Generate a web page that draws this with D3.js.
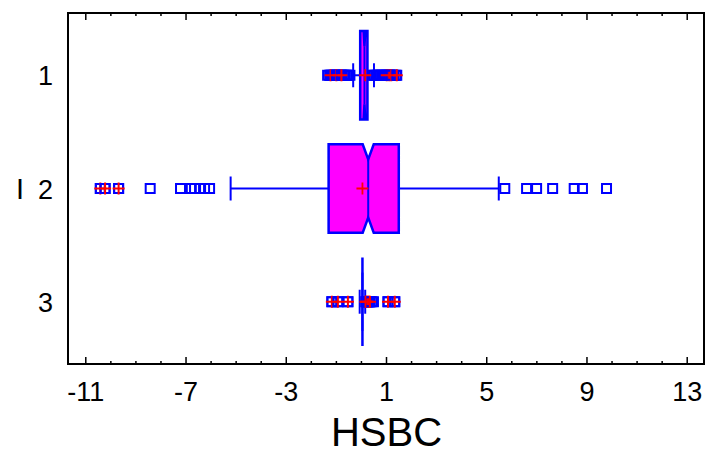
<!DOCTYPE html>
<html>
<head>
<meta charset="utf-8">
<script src="https://cdn.jsdelivr.net/npm/d3@7"></script>
<style>
  body { margin: 0; background: #fff; }
  text { font-family: "Liberation Sans", Arial, sans-serif; }
</style>
</head>
<body>
<script>
// box plot data, one entry per category
var categories = ["1", "2", "3"];
var q1 = [-0.05, -1.31, 0.04];
var median = [0.12, 0.27, 0.04];
var q3 = [0.24, 1.49, 0.04];
var notchLo = [0.09, 0.05, 0.04];
var notchHi = [0.15, 0.49, 0.04];
var whiskerLo = [-0.33, -5.22, -0.07];
var whiskerHi = [0.50, 5.48, 0.15];
var means = [0.15, 0.04, 0.16];
// outside points (squares) and far outside points (red plus)
var outliers = [
  [-1.35, -1.27, -1.19, -1.13, -1.07, -1.01, -0.95, -0.89, -0.83, -0.77, -0.71, -0.65, -0.59, -0.53, -0.46,
   0.45, 0.51, 0.57, 0.63, 0.69, 0.75, 0.81, 0.87, 0.93, 0.99, 1.05, 1.11, 1.17, 1.23, 1.29, 1.37],
  [-10.42, -10.23, -9.69, -8.43, -7.22, -6.79, -6.66, -6.46, -6.26, -6.06, 5.72, 6.59, 6.99, 7.63, 8.49, 8.82, 9.78],
  [-1.18, -0.94, -0.54, 0.18, 0.26, 0.34, 0.42, 0.48, 1.06, 1.33]
];
var farOutliers = [
  [-1.23, -1.00, -0.80, 1.01, 1.11, 1.19, 1.41],
  [-10.42, -10.23, -9.69],
  [-1.18, -0.94, -0.54, 0.18, 0.22, 0.26, 0.30, 0.34, 1.06, 1.33]
];
var xTicks = [-11, -7, -3, 1, 5, 9, 13];

var width = 705;
var height = 458;
// plot frame (avoid window.top name clash)
var pL = 68, pR = 704, pT = 13, pB = 364;

var svg = d3.select('body').append('svg')
  .attr('width', width)
  .attr('height', height);

var x = d3.scaleLinear().domain([-11.71, 13.67]).range([pL, pR]);
var y = d3.scaleLinear().domain([0.45, 3.55]).range([pT, pB]);
var half = 0.39; // half box height in category units

//minor + major ticks, bottom and top, pointing inward
var minor = d3.range(-11, 14, 1);
var tickG = svg.append('g');
minor.forEach(function(v){
  var major = xTicks.indexOf(v) >= 0;
  var len = major ? 7 : 3;
  tickG.append('line').attr('x1', x(v)).attr('x2', x(v))
    .attr('y1', pB).attr('y2', pB - len)
    .attr('stroke', '#000').attr('stroke-width', 1.5);
  tickG.append('line').attr('x1', x(v)).attr('x2', x(v))
    .attr('y1', pT).attr('y2', pT + len)
    .attr('stroke', '#000').attr('stroke-width', 1.5);
});

// tick labels
svg.selectAll('.xl').data(xTicks).enter().append('text')
  .attr('x', function(d){ return x(d); })
  .attr('y', 401)
  .attr('text-anchor', 'middle')
  .style('font-size', '27px')
  .text(function(d){ return d; });

svg.selectAll('.yl').data(categories).enter().append('text')
  .attr('x', 53)
  .attr('y', function(d, i){ return y(i + 1) + 10; })
  .attr('text-anchor', 'end')
  .style('font-size', '27px')
  .text(function(d){ return d; });

svg.append('text').attr('x', 20).attr('y', 199)
  .attr('text-anchor', 'middle').style('font-size', '29px').text('I');
svg.append('text').attr('x', x(1)).attr('y', 446)
  .attr('text-anchor', 'middle').style('font-size', '40px').text('HSBC');

var blue = '#0000ff', red = '#ff0000', magenta = '#ff00ff';

categories.forEach(function(c, i){
  var cy = y(i + 1);
  var yt = y(i + 1 - half), yb = y(i + 1 + half);
  var nd = (yb - yt) * 0.17;
  var g = svg.append('g');

  // whisker line and caps
  g.append('line').attr('x1', x(whiskerLo[i])).attr('x2', x(q1[i]))
    .attr('y1', cy).attr('y2', cy).attr('stroke', blue).attr('stroke-width', 2);
  g.append('line').attr('x1', x(q3[i])).attr('x2', x(whiskerHi[i]))
    .attr('y1', cy).attr('y2', cy).attr('stroke', blue).attr('stroke-width', 2);
  [whiskerLo[i], whiskerHi[i]].forEach(function(w){
    g.append('line').attr('x1', x(w)).attr('x2', x(w))
      .attr('y1', cy - 12).attr('y2', cy + 12)
      .attr('stroke', blue).attr('stroke-width', 2);
  });

  // notched box
  var pts = [
    [x(q1[i]), yt], [x(notchLo[i]), yt], [x(median[i]), yt + nd], [x(notchHi[i]), yt],
    [x(q3[i]), yt], [x(q3[i]), yb], [x(notchHi[i]), yb], [x(median[i]), yb - nd],
    [x(notchLo[i]), yb], [x(q1[i]), yb]
  ];
  g.append('path').attr('d', d3.line()(pts) + 'Z')
    .attr('fill', magenta).attr('stroke', blue).attr('stroke-width', 2.5);
  g.append('line').attr('x1', x(median[i])).attr('x2', x(median[i]))
    .attr('y1', yt + nd).attr('y2', yb - nd)
    .attr('stroke', blue).attr('stroke-width', 2);

  // outside points
  g.selectAll('rect').data(outliers[i]).enter().append('rect')
    .attr('x', function(d){ return x(d) - 4.5; })
    .attr('y', cy - 4.5)
    .attr('width', 9).attr('height', 9)
    .attr('fill', 'none').attr('stroke', blue).attr('stroke-width', 2);

  // far outside: squares with red plus
  var far = g.selectAll('.far').data(farOutliers[i]).enter().append('g');
  far.append('rect')
    .attr('x', function(d){ return x(d) - 4.5; })
    .attr('y', cy - 4.5)
    .attr('width', 9).attr('height', 9)
    .attr('fill', 'none').attr('stroke', blue).attr('stroke-width', 2);
  far.append('path')
    .attr('d', function(d){
      var px = x(d);
      return 'M' + (px - 6) + ',' + cy + 'H' + (px + 6) + 'M' + px + ',' + (cy - 6) + 'V' + (cy + 6);
    })
    .attr('stroke', red).attr('stroke-width', 2);

  // mean marker
  var mx = x(means[i]);
  g.append('path')
    .attr('d', 'M' + (mx - 6) + ',' + cy + 'H' + (mx + 6) + 'M' + mx + ',' + (cy - 6) + 'V' + (cy + 6))
    .attr('stroke', red).attr('stroke-width', 1.8);
});

// frame
svg.append('rect').attr('x', pL).attr('y', pT)
  .attr('width', pR - pL).attr('height', pB - pT)
  .attr('fill', 'none').attr('stroke', '#000').attr('stroke-width', 2);
</script>
</body>
</html>
